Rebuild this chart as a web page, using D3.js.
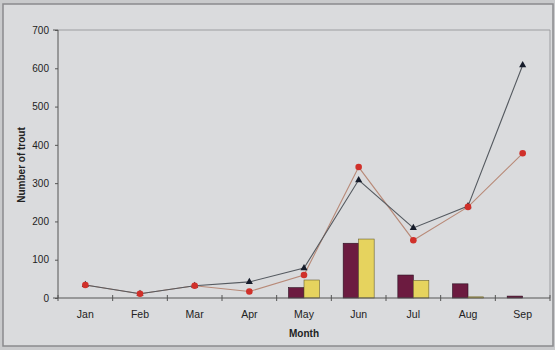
<!DOCTYPE html>
<html><head><meta charset="utf-8">
<script src="https://cdn.jsdelivr.net/npm/d3@7"></script>
<style>
html,body{margin:0;padding:0;background:#d7d8da;}
svg{display:block;}
text{font-family:"Liberation Sans",Arial,sans-serif;}
</style></head><body>
<svg id="c" width="555" height="350"></svg>
<script>
const months = ["Jan","Feb","Mar","Apr","May","Jun","Jul","Aug","Sep"];
const barA = [0,0,0,0,27,143,60,37,5];     // maroon bars
const barB = [0,0,0,0,47,154,46,3,0];      // yellow bars
const lineTri = [34,11,32,42,78,308,183,240,608];  // black triangles
const lineCirc = [34,11,32,17,60,342,151,238,378]; // red circles
const yTicks = [0,100,200,300,400,500,600,700];

const svg = d3.select("#c");
// outer frame
svg.append("rect").attr("x",0).attr("y",0).attr("width",555).attr("height",350).attr("fill","#c9cacc");
svg.append("rect").attr("x",3).attr("y",4).attr("width",550).attr("height",342).attr("fill","#dadbdd")
  .attr("stroke","#8a8b8d").attr("stroke-width",1.5);

const L=58, R=550, T=30, B=298;
const x = d3.scaleBand().domain(months).range([L,R]);
const y = d3.scaleLinear().domain([0,700]).range([B,T]);

// plot border (top/right light)
svg.append("path").attr("d",`M${L},${T}H${R}V${B}`).attr("fill","none").attr("stroke","#9c9da0").attr("stroke-width",1);

// bars
const bw = 15.5;
const g = svg.append("g");
g.selectAll(".ba").data(months).join("rect")
  .attr("x",d=>x(d)+x.bandwidth()/2-bw).attr("width",bw)
  .attr("y",(d,i)=>y(barA[i])).attr("height",(d,i)=>B-y(barA[i]))
  .attr("fill","#6c1b40").attr("stroke","#2a1020").attr("stroke-width",0.6);
g.selectAll(".bb").data(months).join("rect")
  .attr("x",d=>x(d)+x.bandwidth()/2).attr("width",bw)
  .attr("y",(d,i)=>y(barB[i])).attr("height",(d,i)=>B-y(barB[i]))
  .attr("fill","#e6d35e").attr("stroke","#6a6030").attr("stroke-width",0.6);

// axes
const yAxis = d3.axisLeft(y).tickValues(yTicks).tickSize(5).tickPadding(4);
const ya = svg.append("g").attr("transform",`translate(${L},0)`).call(yAxis);
ya.select(".domain").attr("stroke","#555").attr("d",`M-5,${B}H0V${T}H-5`);
ya.selectAll(".tick line").attr("stroke","#555").attr("x1",-3).attr("x2",0);
ya.selectAll("text").attr("font-size",10).attr("fill","#222");

const xa = svg.append("g").attr("transform",`translate(0,${B})`);
xa.append("line").attr("x1",L).attr("x2",R).attr("y1",0).attr("y2",0).attr("stroke","#555");
xa.selectAll(".tk").data(d3.range(months.length+1)).join("line")
  .attr("x1",i=>L+i*x.bandwidth()).attr("x2",i=>L+i*x.bandwidth())
  .attr("y1",-3).attr("y2",3).attr("stroke","#555");
xa.selectAll(".lb").data(months).join("text")
  .attr("x",d=>x(d)+x.bandwidth()/2).attr("y",20).attr("text-anchor","middle")
  .attr("font-size",10.5).attr("fill","#222").text(d=>d);

// lines
const line = d3.line().x((d,i)=>x(months[i])+x.bandwidth()/2).y(d=>y(d));
svg.append("path").datum(lineCirc).attr("d",line).attr("fill","none").attr("stroke","#b88a78").attr("stroke-width",1.1);
svg.append("path").datum(lineTri).attr("d",line).attr("fill","none").attr("stroke","#555a60").attr("stroke-width",1.1);

const tri = d3.symbol().type(d3.symbolTriangle).size(22);
svg.selectAll(".t").data(lineTri).join("path")
  .attr("transform",(d,i)=>`translate(${x(months[i])+x.bandwidth()/2},${y(d)})`)
  .attr("d",tri).attr("fill","#151b2a");
svg.selectAll(".c").data(lineCirc).join("circle")
  .attr("cx",(d,i)=>x(months[i])+x.bandwidth()/2).attr("cy",d=>y(d)).attr("r",3.3)
  .attr("fill","#d0302a");

// titles
svg.append("text").attr("x",(L+R)/2).attr("y",337).attr("text-anchor","middle")
  .attr("font-size",10).attr("font-weight","bold").attr("fill","#222").text("Month");
svg.append("text").attr("transform","translate(25,165) rotate(-90)").attr("text-anchor","middle")
  .attr("font-size",10).attr("font-weight","bold").attr("fill","#222").text("Number of trout");
</script></body></html>
